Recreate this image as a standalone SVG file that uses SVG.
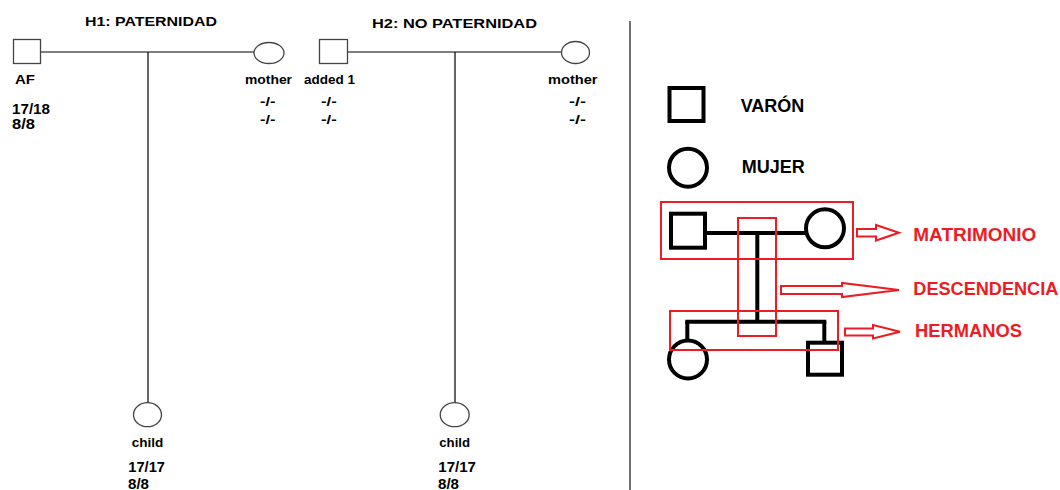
<svg xmlns="http://www.w3.org/2000/svg" width="1060" height="490" viewBox="0 0 1060 490">
<style>
  .lbl { font-family: "Liberation Sans", Arial, sans-serif; font-weight: bold; font-size: 13px; fill: #000; }
  .num { font-family: "Liberation Sans", Arial, sans-serif; font-weight: bold; font-size: 14.5px; fill: #000; }
  .ttl { font-family: "Liberation Sans", Arial, sans-serif; font-weight: bold; font-size: 13.5px; fill: #000; }
  .leg { font-family: "Liberation Sans", Arial, sans-serif; font-weight: bold; font-size: 18px; fill: #000; }
  .red { font-family: "Liberation Sans", Arial, sans-serif; font-weight: bold; font-size: 18.5px; fill: #ed1c24; }
  .shape { fill: #fff; stroke: #444; stroke-width: 1.3; }
  .link { stroke: #555; stroke-width: 1.5; fill: none; }
  .desc { stroke: #111; stroke-width: 1.3; fill: none; }
  .bk { stroke: #000; stroke-width: 4; fill: none; }
  .bkf { stroke: #000; stroke-width: 4; fill: #fff; }
  .rbox { stroke: #ed1c24; stroke-width: 2; fill: none; }
  .rarr { stroke: #ed1c24; stroke-width: 2; fill: #fff; stroke-linejoin: miter; }
</style>
<rect width="1060" height="490" fill="#fff"/>

<!-- connectors -->
<g id="connectors">
  <line class="link" x1="40" y1="52" x2="254" y2="52"/>
  <line class="desc" x1="148" y1="52" x2="148" y2="403"/>
  <line class="link" x1="347" y1="52" x2="562" y2="52"/>
  <line class="desc" x1="455" y1="52" x2="455" y2="403"/>
</g>

<!-- titles -->
<text class="ttl" x="85" y="26" textLength="132" lengthAdjust="spacingAndGlyphs">H1: PATERNIDAD</text>
<text class="ttl" x="372" y="28" textLength="165" lengthAdjust="spacingAndGlyphs">H2: NO PATERNIDAD</text>

<!-- H1 nodes -->
<g id="AF">
  <rect class="shape" x="13.5" y="39.5" width="27" height="24"/>
  <text class="lbl" x="15" y="84" textLength="20" lengthAdjust="spacingAndGlyphs">AF</text>
  <text class="num" x="12" y="113.5" textLength="38" lengthAdjust="spacingAndGlyphs">17/18</text>
  <text class="num" x="12" y="128.5" textLength="23" lengthAdjust="spacingAndGlyphs">8/8</text>
</g>
<g id="mother1">
  <ellipse class="shape" cx="269" cy="53" rx="15" ry="10.5"/>
  <text class="lbl" x="245" y="84" textLength="47" lengthAdjust="spacingAndGlyphs">mother</text>
  <text class="lbl" x="260" y="106" textLength="15.5" lengthAdjust="spacingAndGlyphs">-/-</text>
  <text class="lbl" x="260" y="124" textLength="15.5" lengthAdjust="spacingAndGlyphs">-/-</text>
</g>
<g id="child1">
  <ellipse class="shape" cx="147.5" cy="414.7" rx="14" ry="12"/>
  <text class="lbl" x="131.7" y="447.3" textLength="31.6" lengthAdjust="spacingAndGlyphs">child</text>
  <text class="num" x="128.3" y="472.3" textLength="36.7" lengthAdjust="spacingAndGlyphs">17/17</text>
  <text class="num" x="128" y="488.5" textLength="21" lengthAdjust="spacingAndGlyphs">8/8</text>
</g>

<!-- H2 nodes -->
<g id="added1">
  <rect class="shape" x="319.5" y="39.5" width="28" height="24"/>
  <text class="lbl" x="304" y="84" textLength="51" lengthAdjust="spacingAndGlyphs">added 1</text>
  <text class="lbl" x="321" y="106" textLength="15.7" lengthAdjust="spacingAndGlyphs">-/-</text>
  <text class="lbl" x="321" y="124" textLength="15.7" lengthAdjust="spacingAndGlyphs">-/-</text>
</g>
<g id="mother2">
  <ellipse class="shape" cx="575.5" cy="52.5" rx="14" ry="11"/>
  <text class="lbl" x="548" y="84" textLength="49.5" lengthAdjust="spacingAndGlyphs">mother</text>
  <text class="lbl" x="569" y="106" textLength="17" lengthAdjust="spacingAndGlyphs">-/-</text>
  <text class="lbl" x="569" y="124" textLength="17" lengthAdjust="spacingAndGlyphs">-/-</text>
</g>
<g id="child2">
  <ellipse class="shape" cx="454.7" cy="414.7" rx="14.5" ry="12"/>
  <text class="lbl" x="439.3" y="447.3" textLength="30.7" lengthAdjust="spacingAndGlyphs">child</text>
  <text class="num" x="438.3" y="472.3" textLength="37.7" lengthAdjust="spacingAndGlyphs">17/17</text>
  <text class="num" x="438" y="488.5" textLength="21" lengthAdjust="spacingAndGlyphs">8/8</text>
</g>

<!-- divider -->
<line x1="630" y1="21" x2="630" y2="490" stroke="#707070" stroke-width="2"/>

<!-- legend -->
<g id="legend">
  <rect class="bk" x="669.5" y="88" width="34" height="33"/>
  <text class="leg" x="740.7" y="112.3">VARÓN</text>
  <circle class="bk" cx="688" cy="167.7" r="19"/>
  <text class="leg" x="741.7" y="172.7">MUJER</text>

  <line class="bk" x1="705" y1="233" x2="806" y2="233"/>
  <line class="bk" x1="757.3" y1="233" x2="757.3" y2="321.7"/>
  <line class="bk" x1="685.3" y1="321.7" x2="826.3" y2="321.7"/>
  <line class="bk" x1="687.3" y1="321.7" x2="687.3" y2="341"/>
  <line class="bk" x1="824.3" y1="321.7" x2="824.3" y2="343"/>
  <rect class="bkf" x="671" y="213.7" width="34" height="34"/>
  <circle class="bkf" cx="825" cy="228.3" r="19"/>
  <circle class="bkf" cx="688" cy="359.5" r="19"/>
  <rect class="bkf" x="808" y="342.7" width="34" height="32"/>

  <rect class="rbox" x="661" y="202" width="192" height="57"/>
  <rect class="rbox" x="738" y="218" width="38" height="118"/>
  <rect class="rbox" x="670" y="311" width="168" height="39"/>

  <polygon class="rarr" points="857,229 876,229 876,225 899,232.7 876,240.5 876,236.5 857,236.5"/>
  <polygon class="rarr" points="781,286 842,286 842,283 899,290 842,297 842,294 781,294"/>
  <polygon class="rarr" points="845,328.5 873,328.5 873,325 900,331.7 873,338.5 873,335.5 845,335.5"/>

  <text class="red" x="913.3" y="240.7" textLength="123" lengthAdjust="spacingAndGlyphs">MATRIMONIO</text>
  <text class="red" x="913.3" y="295" textLength="145" lengthAdjust="spacingAndGlyphs">DESCENDENCIA</text>
  <text class="red" x="915" y="336.7" textLength="107" lengthAdjust="spacingAndGlyphs">HERMANOS</text>
</g>
</svg>
